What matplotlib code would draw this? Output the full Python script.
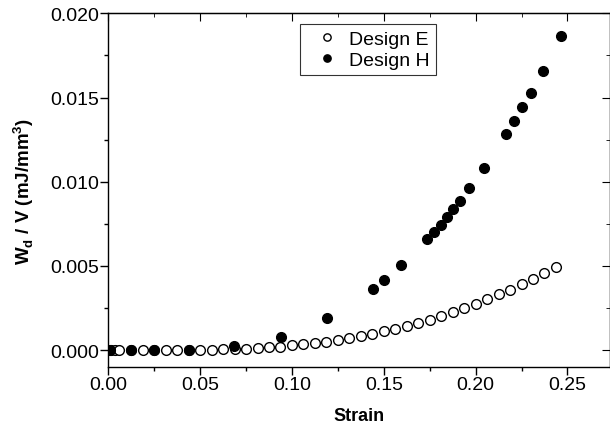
import matplotlib
matplotlib.use("Agg")
import matplotlib.pyplot as plt
from matplotlib.ticker import MultipleLocator

plt.rcParams['font.family'] = ['Liberation Sans', 'DejaVu Sans']
plt.rcParams['mathtext.fontset'] = 'custom'
plt.rcParams['mathtext.rm'] = 'Liberation Sans'
plt.rcParams['mathtext.bf'] = 'Liberation Sans:bold'

# Design E (open circles)
strain_e = [0.0, 0.0015, 0.0035, 0.006, 0.0125, 0.01875, 0.025, 0.03125, 0.0375,
            0.04375, 0.05, 0.05625, 0.0625, 0.06875, 0.075, 0.08125, 0.0875,
            0.09375, 0.1, 0.10625, 0.1125, 0.11875, 0.125, 0.13125, 0.1375,
            0.14375, 0.15, 0.15625, 0.1625, 0.16875, 0.175, 0.18125, 0.1875,
            0.19375, 0.2, 0.20625, 0.2125, 0.21875, 0.225, 0.23125, 0.2375, 0.24375]
wd_e = [0.0, 0.0, 0.0, 0.0, 0.0, 0.00001, 0.00001, 0.00001, 0.00001,
        0.00002, 0.00002, 0.00003, 0.00004, 0.00006, 0.00008, 0.00012, 0.00016,
        0.0002, 0.00028, 0.00036, 0.00043, 0.00051, 0.00061, 0.00071, 0.00083,
        0.00095, 0.00111, 0.00126, 0.00144, 0.00162, 0.00182, 0.00204, 0.00227,
        0.00249, 0.00277, 0.00302, 0.00332, 0.0036, 0.00391, 0.00425, 0.0046, 0.00492]

# Design H (filled circles)
strain_h = [0.001, 0.0124, 0.0251, 0.0438, 0.0687, 0.0938, 0.1189, 0.144, 0.1502,
            0.1596, 0.1738, 0.1773, 0.1809, 0.1845, 0.1878, 0.1915, 0.1965,
            0.2047, 0.2165, 0.2209, 0.2255, 0.23, 0.2365, 0.2467]
wd_h = [0.0, 0.0, 0.0, 0.00001, 0.00026, 0.00081, 0.0019, 0.00362, 0.00415,
        0.00504, 0.00658, 0.00701, 0.00745, 0.0079, 0.00838, 0.00887, 0.00964,
        0.01083, 0.01282, 0.0136, 0.01441, 0.01526, 0.01658, 0.01867]

fig = plt.figure(figsize=(6.1, 4.35), dpi=100)
ax = fig.add_axes([0.1775, 0.154, 0.822, 0.813])

ax.plot(strain_e, wd_e, 'o', ms=7, mfc='white', mec='black', mew=1.0,
        label='Design E', zorder=2)
ax.plot(strain_h, wd_h, 'o', ms=7, mfc='black', mec='black',
        label='Design H', zorder=3)

ax.set_xlim(0, 0.273)
ax.set_ylim(-0.001, 0.020)
ax.xaxis.set_major_locator(MultipleLocator(0.05))
ax.xaxis.set_minor_locator(MultipleLocator(0.025))
ax.yaxis.set_major_locator(MultipleLocator(0.005))
ax.yaxis.set_minor_locator(MultipleLocator(0.0025))
ax.xaxis.set_major_formatter(plt.FormatStrFormatter('%.2f'))
ax.yaxis.set_major_formatter(plt.FormatStrFormatter('%.3f'))

ax.tick_params(which='both', direction='out', top=False, right=False,
               labelsize=14, pad=1)
ax.tick_params(which='major', length=5.5, width=1)
ax.tick_params(which='minor', length=3, width=1)
# top/right ticks inward
ax2 = ax.secondary_xaxis('top')
ax2.xaxis.set_major_locator(MultipleLocator(0.05))
ax2.xaxis.set_minor_locator(MultipleLocator(0.025))
ax2.tick_params(which='both', direction='in', labeltop=False)
ax2.tick_params(which='major', length=5.5)
ax2.tick_params(which='minor', length=3)
ax3 = ax.secondary_yaxis('right')
ax3.yaxis.set_major_locator(MultipleLocator(0.005))
ax3.yaxis.set_minor_locator(MultipleLocator(0.0025))
ax3.tick_params(which='both', direction='in', labelright=False)
ax3.tick_params(which='major', length=5.5)
ax3.tick_params(which='minor', length=3)

for s in ax.spines.values():
    s.set_linewidth(1.0)

ax.set_xlabel('Strain', fontsize=13, fontweight='bold', labelpad=10)
ax.set_ylabel(r'W$_\mathbf{d}$ / V (mJ/mm$^\mathbf{3}$)', fontsize=13.5,
              fontweight='bold', labelpad=10)

leg = ax.legend(loc='upper left', bbox_to_anchor=(0.3824, 0.971), fontsize=14,
                frameon=True, fancybox=False, edgecolor='black',
                markerscale=0.75, handletextpad=0.05, borderpad=0.35,
                labelspacing=0.15, handlelength=2.1, borderaxespad=0)
leg.get_frame().set_linewidth(0.8)

fig.savefig('out.png', dpi=100)
